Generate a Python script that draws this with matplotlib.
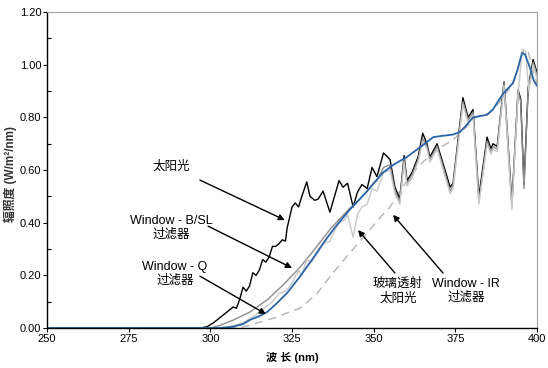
import matplotlib
matplotlib.use("Agg")
from matplotlib import pyplot as plt
from matplotlib.ticker import MultipleLocator
import numpy as np

plt.rcParams['font.family'] = ['Liberation Sans', 'Noto Sans CJK SC', 'DejaVu Sans']

# sunlight (black)
sun_nm = [250, 297, 299, 301, 303, 305, 306, 307, 308, 309, 310, 311, 312, 313, 314, 315, 316, 317, 318,
          319, 320, 321, 322, 323, 323.5, 325, 326, 327, 328, 329.5, 330.5, 332, 333, 334.5, 336.6, 339.4,
          340.6, 342, 343.7, 345, 346.4, 348, 349.5, 351, 353, 355, 356.5, 358, 359.3, 360.2, 361.7, 363.6,
          365, 366.3, 367.2, 369.4, 373.4, 374.3, 377.3, 378.9, 380.4, 382.2, 384.7, 385.9, 386.5, 387.8,
          389.9, 392.3, 394.2, 395, 396, 397.3, 398.8, 400]
sun_val = [0, 0, 0.005, 0.02, 0.04, 0.06, 0.07, 0.08, 0.075, 0.11, 0.155, 0.14, 0.16, 0.21, 0.2, 0.22, 0.26,
           0.25, 0.27, 0.31, 0.31, 0.32, 0.335, 0.33, 0.38, 0.46, 0.475, 0.46, 0.5, 0.555, 0.50, 0.485, 0.49,
           0.52, 0.44, 0.56, 0.535, 0.55, 0.46, 0.515, 0.545, 0.53, 0.61, 0.575, 0.665, 0.64, 0.535, 0.49,
           0.655, 0.56, 0.59, 0.65, 0.74, 0.70, 0.65, 0.70, 0.535, 0.55, 0.875, 0.80, 0.83, 0.50, 0.725,
           0.68, 0.70, 0.69, 0.935, 0.475, 0.905, 0.87, 0.545, 0.915, 1.02, 0.97]

# Window - B/SL filter (mid gray)
bsl_nm = [250, 300, 303, 307, 312, 317.3, 322, 327.4, 332.6, 337, 340, 342.7, 345, 348, 350, 351, 353, 355,
          356.5, 358, 359.3, 360.2, 361.7, 363.6, 365, 366.3, 367.2, 369.4, 373.4, 374.3, 377.3, 378.9,
          380.4, 382.2, 384.7, 385.9, 386.5, 387.8, 389.9, 392.3, 394.2, 395, 396, 397.3, 398.8, 400]
bsl_val = [0, 0, 0.01, 0.03, 0.06, 0.106, 0.16, 0.23, 0.31, 0.38, 0.42, 0.455, 0.48, 0.52, 0.55, 0.56,
           0.61, 0.62, 0.52, 0.48, 0.64, 0.55, 0.58, 0.64, 0.72, 0.69, 0.64, 0.69, 0.52, 0.54, 0.86, 0.79,
           0.82, 0.48, 0.71, 0.67, 0.69, 0.68, 0.93, 0.46, 0.90, 0.86, 0.53, 0.91, 1.01, 0.96]

# glass transmitted sunlight (light gray)
glass_nm = [250, 302, 306, 310, 314, 317, 319, 321, 323, 325, 327, 328, 329.5, 331, 333, 334.5, 336.6, 338,
            339.4, 341, 342, 343.7, 345, 346.4, 348, 349.5, 351, 353, 355, 356.5, 358, 359.3, 360.2, 361.7,
            363.6, 365, 366.3, 367.2, 369.4, 373.4, 374.3, 377.3, 378.9, 380.4, 382.2, 384.7, 385.9, 386.5,
            387.8, 389.9, 392.3, 394.2, 395.5, 396.5, 397.5, 398.8, 400]
glass_val = [0, 0, 0.005, 0.02, 0.05, 0.08, 0.1, 0.13, 0.14, 0.17, 0.22, 0.2, 0.26, 0.25, 0.3, 0.32, 0.33,
             0.37, 0.40, 0.41, 0.43, 0.345, 0.43, 0.46, 0.47, 0.53, 0.52, 0.59, 0.60, 0.51, 0.47, 0.63, 0.54,
             0.57, 0.63, 0.71, 0.68, 0.63, 0.68, 0.51, 0.53, 0.85, 0.78, 0.81, 0.47, 0.70, 0.66, 0.68, 0.67,
             0.92, 0.45, 0.89, 1.06, 1.05, 0.90, 1.0, 0.95]

# Window - Q filter (blue)
q_nm = [250, 303, 307, 310, 312, 315, 317.3, 320, 323.5, 327.4, 330, 332.6, 335, 338, 340, 342.7, 345, 348,
        350, 352.8, 356, 360.2, 364, 367.2, 368.2, 371, 374.3, 376.4, 378, 380.4, 382.5, 384.7, 386.5, 388,
        389.6, 392.6, 394, 395.4, 396.3, 397.8, 399, 400]
q_val = [0, 0, 0.005, 0.015, 0.03, 0.045, 0.06, 0.09, 0.133, 0.195, 0.24, 0.285, 0.33, 0.38, 0.41, 0.45,
         0.48, 0.52, 0.55, 0.59, 0.62, 0.65, 0.685, 0.715, 0.725, 0.73, 0.735, 0.745, 0.765, 0.80, 0.805,
         0.81, 0.83, 0.86, 0.89, 0.93, 0.98, 1.045, 1.04, 0.99, 0.94, 0.92]

# Window - IR filter (dashed)
ir_nm = [250, 308, 312, 316, 320, 324, 327.4, 332.6, 337.6, 343, 348, 352, 355, 358, 362, 365, 368.2, 371,
         374.3, 378.5, 381, 385, 388, 391, 393, 394.5, 396, 397.3, 398.5, 400]
ir_val = [0, 0, 0.01, 0.025, 0.04, 0.06, 0.075, 0.13, 0.21, 0.29, 0.36, 0.42, 0.46, 0.52, 0.59, 0.63, 0.665,
          0.69, 0.715, 0.765, 0.80, 0.815, 0.85, 0.90, 0.94, 1.00, 1.06, 1.05, 0.99, 0.93]

fig = plt.figure(figsize=(5.48, 3.68), dpi=100)
ax = fig.add_axes([0.0858, 0.1087, 0.8942, 0.8583])

ax.plot(ir_nm, ir_val, color="#b4b4b4", lw=1, dashes=(6, 4))
ax.plot(sun_nm, sun_val, color="black", lw=1)
ax.plot(bsl_nm, bsl_val, color="#8c8c8c", lw=1)
ax.plot(glass_nm, glass_val, color="#c8c8c8", lw=1)
ax.plot(q_nm, q_val, color="#2a64a8", lw=1.3)

ax.set_xlim(250, 400)
ax.set_ylim(0, 1.2)
ax.set_xticks(np.arange(250, 401, 25))
ax.yaxis.set_major_locator(MultipleLocator(0.2))
ax.yaxis.set_minor_locator(MultipleLocator(0.1))
ax.yaxis.set_major_formatter(matplotlib.ticker.FormatStrFormatter('%.2f'))
ax.tick_params(axis='both', labelsize=8, length=3, width=0.8, pad=1)
ax.tick_params(axis='y', which='minor', direction='in', length=3, width=0.8)

for s in ['top', 'right']:
    ax.spines[s].set_color('#a0a0a0')
for s in ['left', 'bottom']:
    ax.spines[s].set_linewidth(1)

ax.set_xlabel("波 长 (nm)", fontsize=8, fontweight='bold', labelpad=6)
fig.text(0.018, 0.528, "辐照度 (W/m²/nm)", rotation=90, fontsize=8.5, fontweight='bold',
         ha='center', va='center', color='#333333')

ap = dict(arrowstyle="-|>", color="black", lw=1, mutation_scale=9, shrinkA=0, shrinkB=0)
ax.annotate("", xy=(322.8, 0.41), xytext=(296.8, 0.562), arrowprops=ap)
ax.text(288, 0.611, "太阳光", fontsize=9, ha='center', va='center')
ax.annotate("", xy=(325, 0.228), xytext=(299.3, 0.387), arrowprops=ap)
ax.text(288, 0.38, "Window - B/SL\n过滤器", fontsize=9, ha='center', va='center', linespacing=1.2)
ax.annotate("", xy=(317, 0.053), xytext=(296.8, 0.197), arrowprops=ap)
ax.text(289.2, 0.205, "Window - Q\n过滤器", fontsize=9, ha='center', va='center', linespacing=1.2)
ax.annotate("", xy=(345.2, 0.372), xytext=(356.5, 0.209), arrowprops=ap)
ax.text(357.4, 0.14, "玻璃透射\n太阳光", fontsize=9, ha='center', va='center', linespacing=1.2)
ax.annotate("", xy=(355.9, 0.43), xytext=(371.2, 0.209), arrowprops=ap)
ax.text(378.3, 0.14, "Window - IR\n过滤器", fontsize=9, ha='center', va='center', linespacing=1.2)

fig.savefig("out.png", dpi=100)
